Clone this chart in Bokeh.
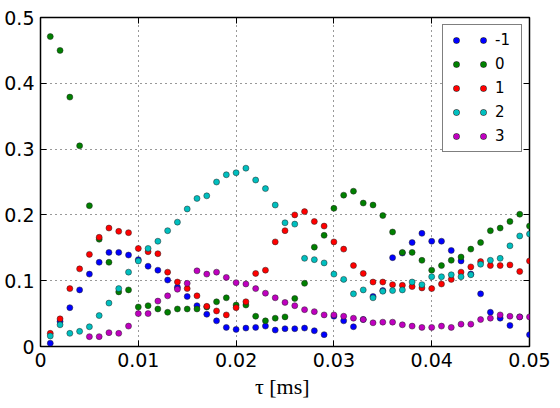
from bokeh.plotting import figure
from bokeh.models import (ColumnDataSource, FixedTicker, LinearAxis, Legend,
                          LegendItem, Range1d)
from bokeh.embed import file_html
from bokeh.resources import INLINE

nan = float("nan")

tau = [0.001, 0.002, 0.003, 0.004, 0.005, 0.006, 0.007, 0.008, 0.009, 0.010,
       0.011, 0.012, 0.013, 0.014, 0.015, 0.016, 0.017, 0.018, 0.019, 0.020,
       0.021, 0.022, 0.023, 0.024, 0.025, 0.026, 0.027, 0.028, 0.029, 0.030,
       0.031, 0.032, 0.033, 0.034, 0.035, 0.036, 0.037, 0.038, 0.039, 0.040,
       0.041, 0.042, 0.043, 0.044, 0.045, 0.046, 0.047, 0.048, 0.049, 0.050]

s_m1 = [0.005, 0.038, 0.059, 0.086, 0.110, 0.128, 0.143, 0.143, 0.139, 0.132,
        0.122, 0.116, 0.101, 0.090, 0.076, 0.062, 0.049, 0.039, 0.029, 0.026,
        0.028, 0.029, 0.031, 0.025, 0.027, 0.027, 0.028, 0.024, 0.018, 0.046,
        0.039, 0.030, 0.041, 0.076, 0.085, 0.135, 0.142, 0.158, 0.172, 0.160,
        0.160, 0.146, 0.130, 0.110, 0.080, 0.052, 0.043, 0.032, 0.045, 0.018]

s_0 = [0.471, 0.450, 0.379, 0.305, 0.214, 0.163, 0.128, 0.083, 0.086, 0.060,
       0.062, 0.057, 0.052, 0.057, 0.057, 0.057, 0.060, 0.068, 0.074, 0.063,
       0.063, 0.046, 0.039, 0.043, 0.045, 0.073, 0.096, 0.151, 0.169, 0.210,
       0.230, 0.236, 0.218, 0.215, 0.199, 0.174, 0.143, 0.143, 0.131, 0.116,
       0.123, 0.131, 0.136, 0.148, 0.158, 0.176, 0.180, 0.190, 0.201, 0.183]

s_1 = [0.020, 0.042, 0.088, 0.118, 0.140, 0.166, 0.180, 0.175, 0.173, 0.149,
       0.144, 0.141, 0.113, 0.098, 0.088, 0.077, 0.061, 0.054, 0.048, 0.059,
       0.068, 0.111, 0.116, 0.159, 0.176, 0.200, 0.205, 0.190, 0.183, 0.159,
       0.148, 0.123, 0.111, 0.098, 0.098, 0.094, 0.093, 0.091, 0.089, 0.088,
       0.095, 0.102, 0.113, 0.121, 0.129, 0.123, 0.123, 0.124, 0.114, 0.130]

s_2 = [0.016, 0.033, 0.020, 0.023, 0.030, 0.047, 0.066, 0.088, 0.113, 0.130,
       0.149, 0.160, 0.176, 0.189, 0.209, 0.225, 0.229, 0.250, 0.261, 0.264,
       0.271, 0.253, 0.240, 0.215, 0.188, 0.186, 0.134, 0.132, 0.127, 0.110,
       0.102, 0.080, 0.086, 0.074, 0.084, 0.085, 0.086, 0.098, 0.094, 0.106,
       0.106, 0.109, 0.106, 0.109, 0.125, 0.131, 0.134, 0.153, 0.168, 0.171]

s_3 = [nan, nan, nan, nan, 0.015, 0.015, 0.021, 0.020, 0.031, 0.050,
       0.050, 0.069, 0.077, 0.087, 0.096, 0.115, 0.110, 0.113, 0.105, 0.097,
       0.095, 0.088, 0.081, 0.074, 0.067, 0.062, 0.056, 0.053, 0.048, 0.048,
       0.046, 0.043, 0.041, 0.036, 0.037, 0.037, 0.033, 0.031, 0.029, 0.029,
       0.031, 0.029, 0.034, 0.034, 0.041, 0.043, 0.048, 0.046, 0.045, 0.045]

labels = ["-1", "0", "1", "2", "3"]
colors = ["#0000ff", "#008000", "#ff0000", "#00bfbf", "#bf00bf"]

x_ticks = [0.0, 0.01, 0.02, 0.03, 0.04, 0.05]
y_ticks = [0.0, 0.1, 0.2, 0.3, 0.4, 0.5]

src = ColumnDataSource(dict(tau=tau, s0=s_m1, s1=s_0, s2=s_1, s3=s_2, s4=s_3))

p = figure(frame_width=489, frame_height=329,
           x_range=Range1d(0, 0.05), y_range=Range1d(0, 0.5),
           output_backend="svg", toolbar_location=None,
           min_border_left=40, min_border_right=23, min_border_top=17,
           min_border_bottom=50)
p.background_fill_color = "white"
p.border_fill_color = "white"
p.outline_line_color = "black"
p.outline_line_width = 1.5

TICK_FONT = "DejaVu Sans"

def style_axis(ax, show_labels):
    ax.major_tick_in = 6
    ax.major_tick_out = 0
    ax.minor_tick_in = 0
    ax.minor_tick_out = 0
    ax.major_tick_line_color = "black"
    ax.major_tick_line_width = 1
    ax.axis_line_color = None
    ax.major_label_text_font = TICK_FONT
    if show_labels:
        ax.major_label_text_color = "black"
        ax.major_label_text_font_size = "19px"
        ax.major_label_standoff = 6
    else:
        ax.major_label_text_color = None
        ax.major_label_text_alpha = 0
        ax.major_label_text_font_size = "1px"
        ax.major_label_standoff = 0

p.xaxis.ticker = FixedTicker(ticks=x_ticks)
p.yaxis.ticker = FixedTicker(ticks=y_ticks)
p.xaxis.major_label_overrides = {0: "0"}
for ax in p.xaxis + p.yaxis:
    style_axis(ax, True)
p.xaxis.axis_label = "τ  [ms]"
p.xaxis.axis_label_text_font = "Liberation Serif"
p.xaxis.axis_label_text_font_style = "normal"
p.xaxis.axis_label_text_font_size = "22px"
p.xaxis.axis_label_standoff = 4
p.xaxis.axis_label_text_color = "black"

top_ax = LinearAxis(ticker=FixedTicker(ticks=x_ticks))
right_ax = LinearAxis(ticker=FixedTicker(ticks=y_ticks))
style_axis(top_ax, False)
style_axis(right_ax, False)
p.add_layout(top_ax, "above")
p.add_layout(right_ax, "right")

for g in (p.xgrid, p.ygrid):
    g.grid_line_color = "black"
    g.grid_line_alpha = 0.8
    g.grid_line_width = 1
    g.grid_line_dash = "1 4"
p.xgrid.ticker = FixedTicker(ticks=x_ticks)
p.ygrid.ticker = FixedTicker(ticks=y_ticks)

for i, c in enumerate(colors):
    p.scatter(x="tau", y="s%d" % i, source=src, size=6, fill_color=c,
              line_color="#222222", line_width=0.5)

items = []
for lab, c in zip(labels, colors):
    r_edge = p.line(x=[nan], y=[nan], line_color="#222222", line_width=6.5,
                    line_dash="0 27", line_dash_offset=20, line_cap="round")
    r_fill = p.line(x=[nan], y=[nan], line_color=c, line_width=5.5,
                    line_dash="0 27", line_dash_offset=20, line_cap="round")
    items.append(LegendItem(label=lab, renderers=[r_edge, r_fill]))

legend = Legend(items=items, location="top_right", margin=7, padding=6,
                spacing=6, glyph_width=38, glyph_height=16, label_height=16,
                label_standoff=8, label_text_font=TICK_FONT,
                label_text_font_size="15px", label_text_color="black",
                border_line_color="black", border_line_width=1.5,
                background_fill_color="white", background_fill_alpha=1.0)
p.add_layout(legend)

open("out.html", "w").write(file_html(p, INLINE))
